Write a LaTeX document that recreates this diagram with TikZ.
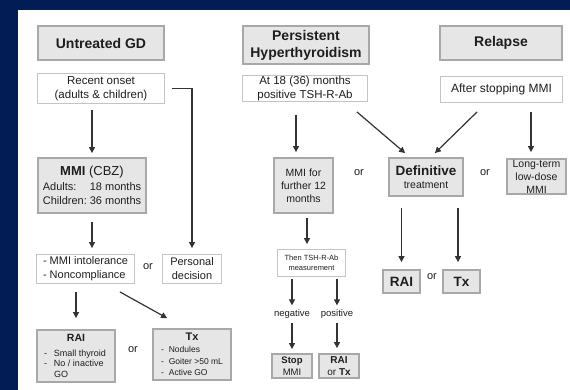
\documentclass[tikz,border=0pt]{standalone}
\usepackage{fontspec}
\setmainfont{Liberation Sans}
\usetikzlibrary{arrows.meta,calc}
\definecolor{navy}{HTML}{021D55}
\definecolor{boxfill}{HTML}{E6E6E6}
\definecolor{boxline}{HTML}{A8A8A8}
\definecolor{wline}{HTML}{C4C4C4}
\definecolor{ink}{HTML}{1E1E1E}
\definecolor{arrowc}{HTML}{333333}
\newcommand{\fs}[2]{\fontsize{#1}{#2}\selectfont}
\begin{document}
\begin{tikzpicture}[x=1pt,y=-1pt,
  gbox/.style={draw=boxline, line width=1.8pt, fill=boxfill, inner sep=0pt, align=center, text=ink},
  wbox/.style={draw=wline, line width=0.9pt, fill=white, inner sep=0pt, align=center, text=ink},
  arr/.style={draw=arrowc, line width=1.2pt, -{Triangle[length=6pt,width=6pt]}},
  lab/.style={inner sep=0pt, text=ink, font=\fs{11}{12}},
]
\useasboundingbox (0,0) rectangle (570,390);
\fill[navy] (0,0) rectangle (570,390);
\fill[white] (18,10) rectangle (570,390);

% left column
\node[gbox, minimum width=126pt, minimum height=34pt, font=\fs{14}{17}\bfseries] (ugd) at (101,43) {Untreated GD};
\node[wbox, minimum width=127pt, minimum height=30pt, font=\fs{11.5}{14.5}] (onset) at (101,88.5) {Recent onset\\(adults \& children)};
\node[gbox, minimum width=108pt, minimum height=55pt, font=\fs{11}{14.5}] (mmi) at (92,185.5) {{\fs{13}{15}\textbf{MMI} (CBZ)}\\\makebox[47pt][l]{Adults:}18 months\\\makebox[47pt][l]{Children:}36 months};
\node[wbox, minimum width=98pt, minimum height=29pt, align=left, font=\fs{11}{14}] (intol) at (85.5,269) {- MMI intolerance\\- Noncompliance};
\node[wbox, minimum width=59pt, minimum height=29pt, font=\fs{11}{14}] (pers) at (192,269) {Personal\\decision};
\node[gbox, minimum width=78pt, minimum height=52pt, font=\fs{9}{10.5}] (rai1) at (76,356) {{\fs{10.5}{12}\bfseries RAI}\\[4pt]\makebox[64pt][l]{-\hspace{7pt}Small thyroid}\\\makebox[64pt][l]{-\hspace{7pt}No / inactive}\\\makebox[64pt][l]{\hspace{10pt}GO}};
\node[gbox, minimum width=78pt, minimum height=51pt, font=\fs{8.5}{11.5}] (tx1) at (192,354.5) {{\fs{11}{12}\bfseries Tx}\\[1pt]\makebox[62pt][l]{-\hspace{5pt}Nodules}\\\makebox[62pt][l]{-\hspace{5pt}Goiter >50 mL}\\\makebox[62pt][l]{-\hspace{5pt}Active GO}};
\node[lab] (or1) at (148,267) {or};
\node[lab] (or2) at (133,350) {or};

% middle / right
\node[gbox, minimum width=126pt, minimum height=38pt, font=\fs{14}{17}\bfseries] (persist) at (306,45) {Persistent\\Hyperthyroidism};
\node[wbox, minimum width=125pt, minimum height=26pt, font=\fs{11.5}{14}] (at18) at (305,88.5) {At 18 (36) months\\positive TSH-R-Ab};
\node[gbox, minimum width=122pt, minimum height=34pt, font=\fs{14}{17}\bfseries] (relapse) at (501,43) {Relapse};
\node[wbox, minimum width=122pt, minimum height=26pt, font=\fs{12}{14}] (after) at (501.5,89.5) {After stopping MMI};
\node[gbox, minimum width=59pt, minimum height=55pt, font=\fs{10.5}{13}] (further) at (303.5,185.5) {MMI for\\further 12\\months};
\node[gbox, minimum width=74pt, minimum height=38pt, font=\fs{10.5}{13}] (defin) at (426,177) {{\fs{13.5}{13}\bfseries Definitive}\\treatment};
\node[gbox, minimum width=59pt, minimum height=35pt, font=\fs{10.5}{13}] (longt) at (536.5,176.5) {Long-term\\low-dose\\MMI};
\node[lab] (or3) at (359,173) {or};
\node[lab] (or4) at (485,173) {or};
\node[gbox, minimum width=37pt, minimum height=23pt, font=\fs{13.5}{15}\bfseries] (rai2) at (401.5,281.5) {RAI};
\node[gbox, minimum width=37pt, minimum height=23pt, font=\fs{13.5}{15}\bfseries] (tx2) at (461.5,281.5) {Tx};
\node[lab] (or5) at (432,277) {or};
\node[wbox, minimum width=68pt, minimum height=27pt, font=\fs{7.5}{10}] (then) at (311.5,263) {Then TSH-R-Ab\\measurement};
\node[lab, font=\fs{9.5}{11}] (neg) at (292,314) {negative};
\node[lab, font=\fs{9.5}{11}] (pos) at (337,314) {positive};
\node[gbox, minimum width=40pt, minimum height=24pt, font=\fs{9.5}{12}] (stop) at (292,366) {\textbf{Stop}\\MMI};
\node[gbox, minimum width=40pt, minimum height=24pt, font=\fs{10}{12}] (raitx) at (339,366) {\textbf{RAI}\\or \textbf{Tx}};

% arrows left
\draw[arr] ($(onset.south -| mmi.north)+(0,6)$) -- ($(mmi.north)+(0,-4)$);
\draw[arr] ($(mmi.south)+(0,8)$) -- ($(mmi.south |- intol.north)+(0,-6)$);
\draw[arr] ($(onset.east)+(7,0)$) -| ($(pers.north)+(0,-6)$);
\draw[arr] ($(intol.south -| rai1.north)+(0,8)$) -- ($(rai1.north)+(0,-11)$);
\draw[arr] ($(intol.south east)+(-15,8)$) -- ($(tx1.north west)+(15,-10)$);

% arrows right
\draw[arr] ($(at18.south)+(-9,13)$) -- ($(further.north)+(-7.5,-5)$);
\draw[arr] ($(at18.south east)+(-11,10)$) -- ($(defin.north west)+(17,-4)$);
\draw[arr] ($(after.south west)+(37,9)$) -- ($(defin.north east)+(-29,-4)$);
\draw[arr] ($(after.south)+(29.5,9)$) -- ($(longt.north)+(-5.5,-6)$);
\draw[arr] ($(defin.south -| rai2.north)+(0,11)$) -- ($(rai2.north)+(0,-7)$);
\draw[arr] ($(defin.south -| tx2.north)+(-3.5,11)$) -- ($(tx2.north)+(-3.5,-7)$);
\draw[arr] ($(further.south)+(3.5,4)$) -- ($(further.south |- then.north)+(3.5,-5)$);
\draw[arr] ($(then.south -| neg.north)+(0,2)$) -- ($(neg.north)+(0,-4)$);
\draw[arr] ($(then.south -| pos.north)+(0,2)$) -- ($(pos.north)+(0,-4)$);
\draw[arr] ($(neg.south)+(0,4)$) -- ($(stop.north)+(0,-4)$);
\draw[arr] ($(pos.south)+(0,4)$) -- ($(pos.south |- raitx.north)+(0,-5)$);
\end{tikzpicture}
\end{document}
